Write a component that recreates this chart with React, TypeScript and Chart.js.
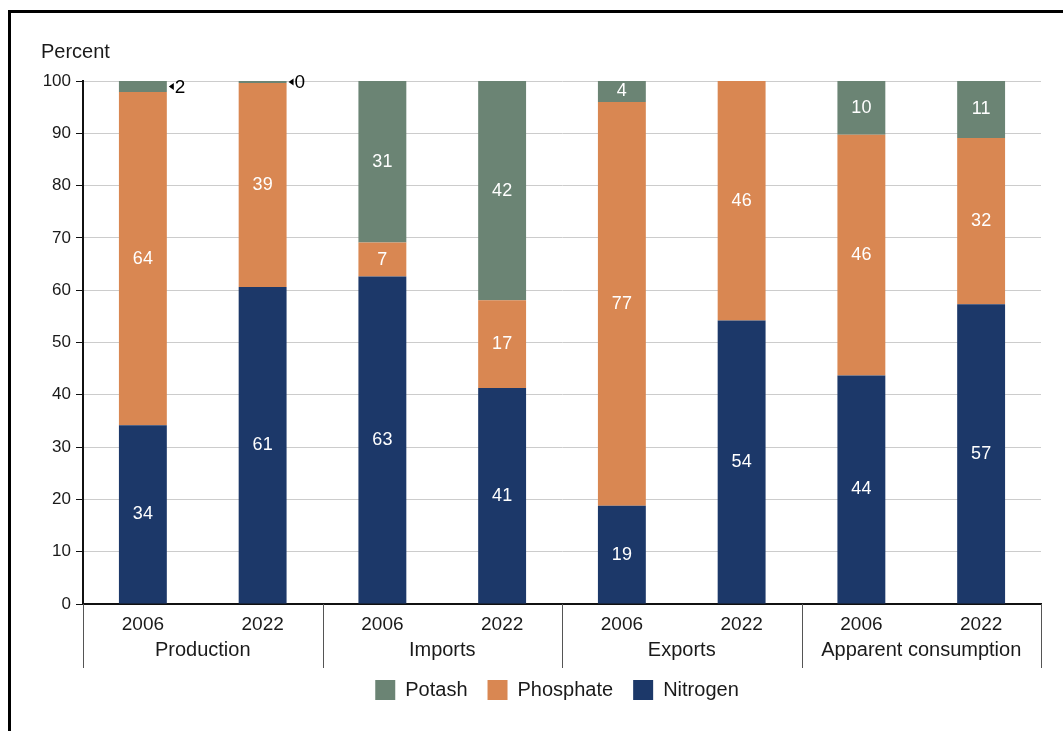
import React, { useEffect, useRef } from "react";
import { Chart, registerables } from "chart.js";

Chart.register(...registerables);

const categories = ["2006", "2022", "2006", "2022", "2006", "2022", "2006", "2022"];
const groups = ["Production", "Imports", "Exports", "Apparent consumption"];
const nitrogen = [34.2, 60.6, 62.6, 41.3, 18.8, 54.2, 43.7, 57.3];
const phosphate = [63.7, 39.0, 6.5, 16.8, 77.2, 45.8, 46.0, 31.8];
const potash = [2.1, 0.4, 30.9, 41.9, 4.0, 0, 10.3, 10.9];
const yTitle = "Percent";

const FONT = "'Liberation Sans', Arial, sans-serif";
const TEXT = "#1a1a1a";
const COLORS = { nitrogen: "#1c3869", phosphate: "#d98752", potash: "#6b8474" };

const decorPlugin = {
  id: "decor",
  afterLayout(chart: any) {
    // center the legend under the plot area
    if (chart.legend) chart.legend.left = 73;
  },
  afterDraw(chart: any) {
    const { ctx, chartArea } = chart;
    const xs = chart.scales.x;
    ctx.save();
    // frame
    ctx.strokeStyle = "#000";
    ctx.lineWidth = 3;
    ctx.beginPath();
    ctx.moveTo(9.5, 731);
    ctx.lineTo(9.5, 11.5);
    ctx.lineTo(1063, 11.5);
    ctx.stroke();
    // y title
    ctx.fillStyle = TEXT;
    ctx.font = `20px ${FONT}`;
    ctx.textAlign = "left";
    ctx.textBaseline = "middle";
    ctx.fillText(yTitle, 41, 52);
    // group dividers and labels
    const n = categories.length;
    const bounds: number[] = [chartArea.left];
    for (let i = 1; i < n / 2; i++) {
      bounds.push((xs.getPixelForValue(2 * i - 1) + xs.getPixelForValue(2 * i)) / 2);
    }
    bounds.push(chartArea.right);
    ctx.strokeStyle = "#555";
    ctx.lineWidth = 1;
    bounds.forEach((bx) => {
      const px = Math.round(bx) + 0.5;
      ctx.beginPath();
      ctx.moveTo(px, chartArea.bottom);
      ctx.lineTo(px, chartArea.bottom + 64);
      ctx.stroke();
    });
    ctx.fillStyle = TEXT;
    ctx.font = `20px ${FONT}`;
    ctx.textAlign = "center";
    groups.forEach((g, gi) => {
      const cx = (xs.getPixelForValue(2 * gi) + xs.getPixelForValue(2 * gi + 1)) / 2;
      ctx.fillText(g, cx, chartArea.bottom + 46);
    });
    ctx.restore();
  },
  afterDatasetsDraw(chart: any) {
    const { ctx } = chart;
    ctx.save();
    ctx.textBaseline = "middle";
    chart.data.datasets.forEach((ds: any, di: number) => {
      const meta = chart.getDatasetMeta(di);
      meta.data.forEach((bar: any, i: number) => {
        const v = ds.data[i];
        if (!v) return;
        const { x, y, base, width } = bar.getProps(["x", "y", "base", "width"], true);
        const h = base - y;
        const cy = (y + base) / 2;
        const txt = String(Math.round(v));
        if (h < 16) {
          const rx = x + width / 2;
          ctx.fillStyle = "#000";
          ctx.beginPath();
          ctx.moveTo(rx + 2, cy);
          ctx.lineTo(rx + 7, cy - 3.5);
          ctx.lineTo(rx + 7, cy + 3.5);
          ctx.closePath();
          ctx.fill();
          ctx.font = `19px ${FONT}`;
          ctx.textAlign = "left";
          ctx.fillText(txt, rx + 8, cy + 1);
        } else {
          ctx.font = `18px ${FONT}`;
          ctx.fillStyle = "#fff";
          ctx.textAlign = "center";
          ctx.fillText(txt, x, cy);
        }
      });
    });
    ctx.restore();
  },
};

export default function App() {
  const ref = useRef<HTMLCanvasElement | null>(null);
  useEffect(() => {
    if (!ref.current) return;
    const chart = new Chart(ref.current, {
      type: "bar",
      data: {
        labels: categories,
        datasets: [
          { label: "Nitrogen", data: nitrogen, backgroundColor: COLORS.nitrogen, borderWidth: 0 },
          { label: "Phosphate", data: phosphate, backgroundColor: COLORS.phosphate, borderWidth: 0 },
          { label: "Potash", data: potash, backgroundColor: COLORS.potash, borderWidth: 0 },
        ],
      },
      options: {
        responsive: false,
        animation: false,
        devicePixelRatio: 1,
        layout: { padding: { left: 0, right: 22, top: 81, bottom: 21 } },
        datasets: { bar: { categoryPercentage: 1, barPercentage: 0.4 } },
        scales: {
          x: {
            stacked: true,
            grid: { display: false, drawTicks: false },
            border: { display: true, color: "#111", width: 2 },
            ticks: { color: TEXT, font: { family: FONT, size: 19 }, padding: 9, maxRotation: 0 },
            afterFit: (s: any) => { s.height = 56; },
          },
          y: {
            stacked: true,
            min: 0,
            max: 100,
            grid: { color: "#cccccc", lineWidth: 1, tickLength: 7, tickColor: "#111", drawTicks: true },
            border: { display: true, color: "#111", width: 2 },
            ticks: { stepSize: 10, color: TEXT, font: { family: FONT, size: 17 }, padding: 5 },
            afterFit: (s: any) => { s.width = 83; },
          },
        },
        plugins: {
          legend: {
            position: "bottom",
            reverse: true,
            labels: { boxWidth: 20, boxHeight: 20, padding: 20, color: TEXT, font: { family: FONT, size: 20 } },
          },
          tooltip: { enabled: false },
        },
      },
      plugins: [decorPlugin],
    });
    return () => chart.destroy();
  }, []);
  return (
    <div style={{ position: "fixed", left: 0, top: 0, width: 1063, height: 731, background: "#fff" }}>
      <canvas ref={ref} width={1063} height={731} style={{ display: "block" }} />
    </div>
  );
}
